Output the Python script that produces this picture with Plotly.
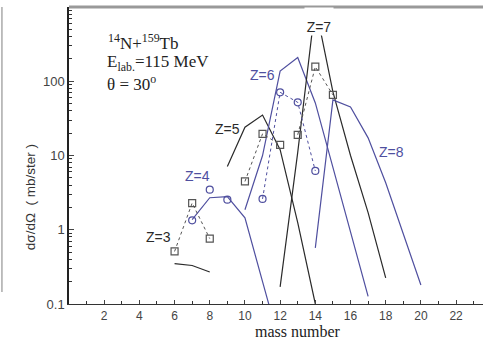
import plotly.graph_objects as go

# ---- data ----
z3_calc_mass = [6, 7, 8]
z3_calc = [0.35, 0.33, 0.27]
z4_calc_mass = [7, 8, 9, 10, 11, 12]
z4_calc = [1.37, 2.7, 2.8, 1.45, 0.2, 0.028]
z5_calc_mass = [9, 10, 11, 12, 13, 14]
z5_calc = [7.1, 24, 35, 12, 1.25, 0.1]
z6_calc_mass = [10, 11, 12, 13, 14, 15, 16, 17]
z6_calc = [1.86, 10, 137, 209, 51, 7.0, 0.97, 0.127]
z7_calc_mass = [12, 13, 14, 15, 16, 17, 18]
z7_calc = [0.17, 11, 1050, 72, 10, 1.7, 0.225]
z8_calc_mass = [14, 15, 16, 17, 18, 19, 20]
z8_calc = [0.57, 56, 45, 17.3, 4.3, 0.91, 0.18]

z3_mass = [6, 7, 8]
z3_data = [0.51, 2.29, 0.76]
z4_mass = [7, 8, 9]
z4_data = [1.34, 3.46, 2.54]
z5_mass = [10, 11, 12]
z5_data = [4.47, 19.6, 13.9]
z6_mass = [11, 12, 13, 14]
z6_data = [2.6, 71, 52, 6.2]
z7_mass = [13, 14, 15]
z7_data = [19, 157, 65.5]

x_ticks = [2, 4, 6, 8, 10, 12, 14, 16, 18, 20, 22]
y_ticks = [0.1, 1, 10, 100]
y_ticktext = ["0.1", "1", "10", "100"]

BLUE = "#4f4f9f"
BLACK = "#2a2a2a"
GRAY = "#555555"

fig = go.Figure()

calc = [
    (z3_calc_mass, z3_calc, BLACK),
    (z4_calc_mass, z4_calc, BLUE),
    (z5_calc_mass, z5_calc, BLACK),
    (z6_calc_mass, z6_calc, BLUE),
    (z7_calc_mass, z7_calc, BLACK),
    (z8_calc_mass, z8_calc, BLUE),
]
for xs, ys, c in calc:
    fig.add_trace(go.Scatter(x=xs, y=ys, mode="lines",
                             line=dict(color=c, width=1.2), showlegend=False))

data = [
    (z3_mass, z3_data, "square-open", GRAY, "lines+markers"),
    (z4_mass, z4_data, "circle-open", BLUE, "markers"),
    (z5_mass, z5_data, "square-open", GRAY, "lines+markers"),
    (z6_mass, z6_data, "circle-open", BLUE, "lines+markers"),
    (z7_mass, z7_data, "square-open", GRAY, "lines+markers"),
]
for xs, ys, sym, c, mode in data:
    fig.add_trace(go.Scatter(x=xs, y=ys, mode=mode,
                             line=dict(color=c, width=1, dash="dot"),
                             marker=dict(symbol=sym, size=7, color=c,
                                         line=dict(color=c, width=1.2)),
                             showlegend=False))

minor_y = [m * 10 ** e for e in range(-1, 3) for m in range(2, 10)]

tick_font = dict(family="Liberation Sans", size=12, color="#444")
fig.update_xaxes(range=[0, 23.53], tickvals=x_ticks, ticks="inside", ticklen=4,
                 showline=True, linecolor="#333", linewidth=1.3,
                 showgrid=False, zeroline=False, tickfont=tick_font,
                 minor=dict(dtick=1, ticks="inside", ticklen=3, tickcolor="#333"))
fig.update_yaxes(type="log", range=[-1, 3], tickvals=y_ticks, ticktext=y_ticktext,
                 ticks="inside", ticklen=5, showline=True, linecolor="#222",
                 linewidth=1.5, showgrid=False, zeroline=False,
                 tickfont=dict(family="Liberation Sans", size=13, color="#444"),
                 minor=dict(tickvals=minor_y, ticks="inside", ticklen=3, tickcolor="#333"))

ann_font = dict(family="Liberation Sans", size=14)
labels = [
    ("Z=3", 5.07, -0.093, BLACK),
    ("Z=4", 7.28, 0.727, BLUE),
    ("Z=5", 9.02, 1.359, BLACK),
    ("Z=6", 10.98, 2.085, BLUE),
    ("Z=8", 18.35, 1.05, BLUE),
]
for t, x, y, c in labels:
    fig.add_annotation(x=x, y=y, xref="x", yref="y", text=t, showarrow=False,
                       xanchor="center", yanchor="middle",
                       font=dict(ann_font, color=c))
fig.add_annotation(x=14.22, y=2.81, xref="x", yref="y", text="Z=7", showarrow=False,
                   xanchor="center", yanchor="middle",
                   font=dict(ann_font, color=BLACK), bgcolor="white",
                   width=28, height=27, valign="bottom", borderpad=0)

serif = dict(family="Liberation Serif", size=17, color="#222")
fig.add_annotation(x=0.09, y=0.882, xref="paper", yref="paper", xanchor="left",
                   yanchor="middle",
                   text="<sup>14</sup>N+<sup>159</sup>Tb", showarrow=False, font=serif)
fig.add_annotation(x=0.087, y=0.812, xref="paper", yref="paper", xanchor="left",
                   yanchor="middle",
                   text="E<sub>lab.</sub>=115 MeV", showarrow=False, font=serif)
fig.add_annotation(x=0.087, y=0.743, xref="paper", yref="paper", xanchor="left",
                   yanchor="middle",
                   text="θ = 30<sup>o</sup>", showarrow=False, font=serif)

fig.add_annotation(x=0.553, y=-0.093, xref="paper", yref="paper",
                   xanchor="center", yanchor="middle",
                   text="mass number", showarrow=False,
                   font=dict(family="Liberation Serif", size=16, color="#222"))
fig.add_annotation(x=-0.094, y=0.36, xref="paper", yref="paper",
                   xanchor="center", yanchor="middle",
                   text="dσ/dΩ  ( mb/ster )", textangle=-90, showarrow=False,
                   font=dict(family="Liberation Sans", size=13.5, color="#333"))

# top frame and image border
fig.add_shape(type="line", xref="paper", yref="paper", x0=0, x1=1, y0=1, y1=1,
              layer="above", line=dict(color="#999", width=3))
fig.add_shape(type="line", xref="paper", yref="paper", x0=-0.162, x1=-0.162,
              y0=0.04, y1=1.0, line=dict(color="#aaa", width=1.5))

fig.update_layout(width=483, height=341,
                  margin=dict(l=69, r=0, t=7, b=37),
                  paper_bgcolor="white", plot_bgcolor="white")

fig.write_html("out.html")
